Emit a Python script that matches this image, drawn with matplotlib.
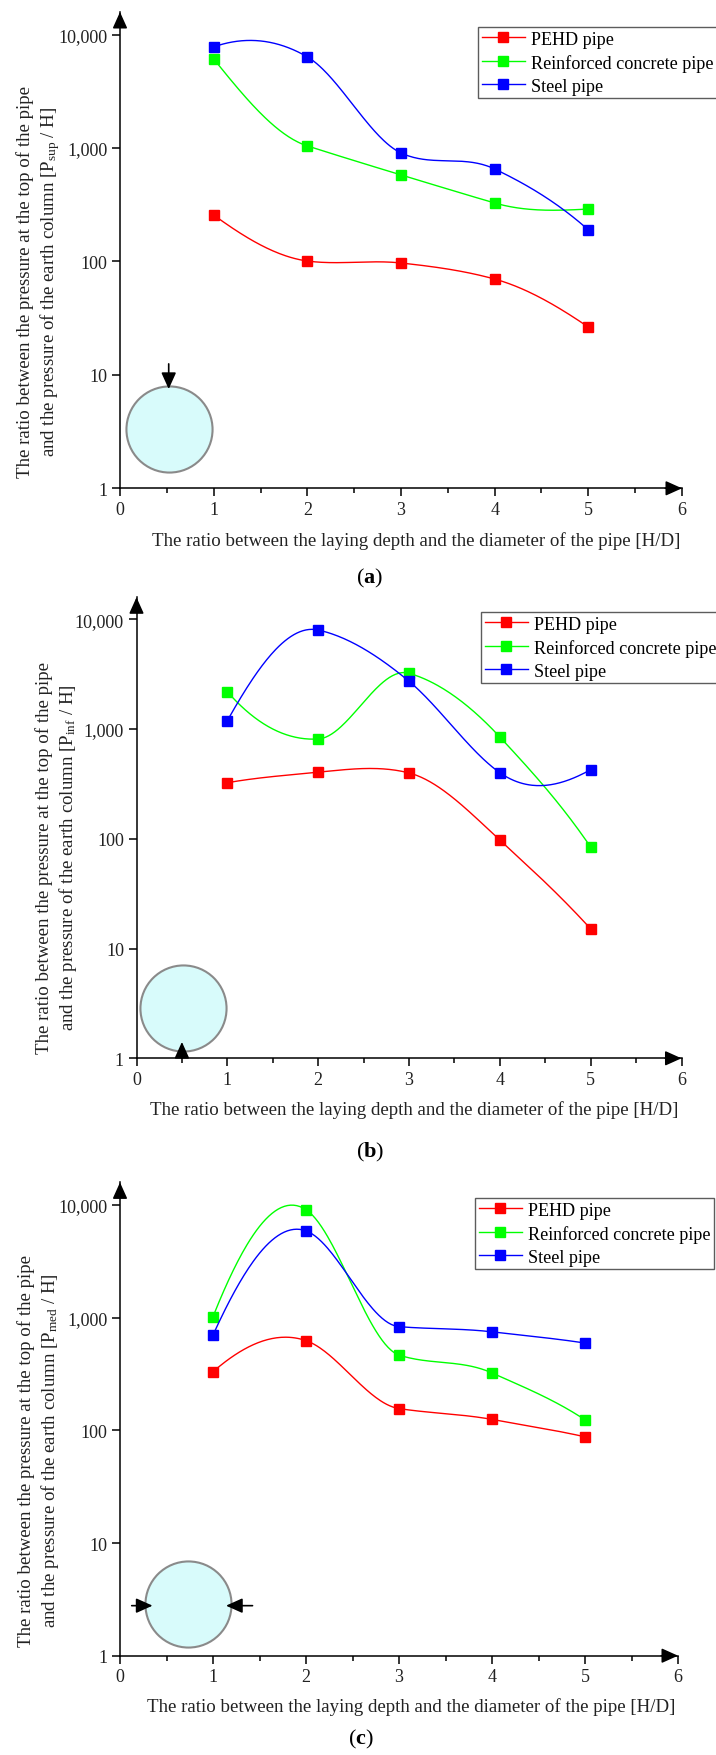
import numpy as np
import matplotlib
matplotlib.use("Agg")
from matplotlib import pyplot as plt
from matplotlib.ticker import FixedLocator, NullLocator, MultipleLocator

plt.rcParams["font.family"] = ["Liberation Serif", "DejaVu Serif"]
plt.rcParams["mathtext.fontset"] = "custom"
plt.rcParams["mathtext.rm"] = "Liberation Serif"
plt.rcParams["mathtext.it"] = "Liberation Serif:italic"
plt.rcParams["mathtext.bf"] = "Liberation Serif:bold"

# H/D ratio
hd = [1, 2, 3, 4, 5]
series_names = ["PEHD pipe", "Reinforced concrete pipe", "Steel pipe"]
series_colors = ["#ff0000", "#00ff00", "#0000ff"]

# (a) pressure at the top of the pipe
sup_pehd = [257, 101, 97, 70, 26.4]
sup_concrete = [6110, 1045, 580, 328, 290]
sup_steel = [7800, 6370, 906, 654, 190]

# (b) pressure at the bottom of the pipe
inf_pehd = [324, 404, 398, 97.5, 15.1]
inf_concrete = [2188, 811, 3220, 846, 84]
inf_steel = [1191, 7980, 2723, 400, 426]

# (c) pressure at the side of the pipe
med_pehd = [331, 625, 156, 125, 87.6]
med_concrete = [1020, 9080, 466, 323, 124]
med_steel = [701, 5890, 832, 748, 595]

y_ticks = [1, 10, 100, 1000, 10000]
y_ticklabels = ["1", "10", "100", "1,000", "10,000"]
x_ticks = [0, 1, 2, 3, 4, 5, 6]

FIG_W, FIG_H = 716, 1756
TXT = 13.6


def akima_line(x, y, per_seg=60):
    # Akima-type spline through the points, done on log10(y)
    x = np.asarray(x, float)
    ly = np.log10(np.asarray(y, float))
    n = len(x)
    m = np.diff(ly) / np.diff(x)
    mm = np.empty(n + 3)
    mm[2:n + 1] = m
    mm[1] = 2 * mm[2] - mm[3]
    mm[0] = 2 * mm[1] - mm[2]
    mm[n + 1] = 2 * mm[n] - mm[n - 1]
    mm[n + 2] = 2 * mm[n + 1] - mm[n]
    tang = np.empty(n)
    for i in range(n):
        w1 = abs(mm[i + 3] - mm[i + 2])
        w2 = abs(mm[i + 1] - mm[i])
        if w1 + w2 == 0:
            tang[i] = 0.5 * (mm[i + 1] + mm[i + 2])
        else:
            tang[i] = (w1 * mm[i + 1] + w2 * mm[i + 2]) / (w1 + w2)
    xs, ys = [], []
    for i in range(n - 1):
        h = x[i + 1] - x[i]
        s = np.linspace(0, 1, per_seg, endpoint=(i == n - 2))
        h00 = 2 * s ** 3 - 3 * s ** 2 + 1
        h10 = s ** 3 - 2 * s ** 2 + s
        h01 = -2 * s ** 3 + 3 * s ** 2
        h11 = s ** 3 - s ** 2
        xs.append(x[i] + s * h)
        ys.append(h00 * ly[i] + h10 * h * tang[i] + h01 * ly[i + 1] + h11 * h * tang[i + 1])
    return np.concatenate(xs), 10 ** np.concatenate(ys)


def px_box(left, right, bottom, top):
    return [left / FIG_W, 1 - bottom / FIG_H, (right - left) / FIG_W, (bottom - top) / FIG_H]


def axis_arrow(ax, tip, tail):
    ax.annotate("", xy=tip, xytext=tail, xycoords="axes fraction",
                arrowprops=dict(arrowstyle="-|>,head_length=1.0,head_width=0.45",
                                mutation_scale=10, fc="k", ec="k", lw=1.1,
                                shrinkA=0, shrinkB=0), annotation_clip=False)


def draw_panel(fig, box, data, sub, ylabel_xy, xlabel_xy, tag_xy, tag, legend_xy):
    ax = fig.add_axes(box)
    for vals, name, col in zip(data, series_names, series_colors):
        xs, ys = akima_line(hd, vals)
        ax.plot(xs, ys, color=col, lw=1.0)
        ax.plot(hd, vals, ls="none", marker="s", ms=7.2, color=col, mec=col)
        ax.plot([], [], color=col, lw=1.0, marker="s", ms=7.2, label=name)

    ax.set_yscale("log")
    ax.set_xlim(0, 6)
    ax.set_ylim(1, 10 ** 4.2)
    ax.yaxis.set_major_locator(FixedLocator(y_ticks))
    ax.yaxis.set_minor_locator(NullLocator())
    ax.set_yticklabels(y_ticklabels)
    ax.set_xticks(x_ticks)
    ax.xaxis.set_minor_locator(MultipleLocator(0.5))
    ax.tick_params(which="major", direction="out", length=6, width=1.1, labelsize=13, pad=3,
                   labelcolor="#222222")
    ax.tick_params(which="minor", direction="out", length=3.5, width=1.1)
    for s in ["top", "right"]:
        ax.spines[s].set_visible(False)
    for s in ["left", "bottom"]:
        ax.spines[s].set_linewidth(1.1)

    axis_arrow(ax, (1, 0), (0.97, 0))
    axis_arrow(ax, (0, 1), (0, 0.97))

    fig.text(ylabel_xy[0] / FIG_W, 1 - ylabel_xy[1] / FIG_H,
             "The ratio between the pressure at the top of the pipe\n"
             "and the pressure of the earth column [$\\mathrm{P_{%s}}$ / H]" % sub,
             rotation=90, ha="center", va="center", ma="center",
             fontsize=TXT, linespacing=1.3, color="#222222")
    fig.text(xlabel_xy[0] / FIG_W, 1 - xlabel_xy[1] / FIG_H,
             "The ratio between the laying depth and the diameter of the pipe [H/D]",
             ha="right", va="center", fontsize=TXT, color="#222222")
    fig.text(tag_xy[0] / FIG_W, 1 - tag_xy[1] / FIG_H, "($\\mathbf{%s}$)" % tag,
             ha="center", va="center", fontsize=16)

    leg = ax.legend(loc="upper left", bbox_to_anchor=(legend_xy[0] / FIG_W, 1 - legend_xy[1] / FIG_H),
                    bbox_transform=fig.transFigure, numpoints=1, fontsize=13.1,
                    frameon=True, fancybox=False, borderpad=0.2, borderaxespad=0,
                    handlelength=2.4, handletextpad=0.3, labelspacing=0.33)
    leg.get_frame().set_edgecolor("#333333")
    leg.get_frame().set_linewidth(1.0)
    return ax


def pipe_icon(ax, center, arrows):
    ax.plot([center[0]], [center[1]], marker="o", ms=62, mfc="#d8fbfb", mec="#8a8a8a",
            mew=1.5, ls="none", clip_on=False, zorder=1)
    for tail, tip in arrows:
        ax.annotate("", xy=tip, xytext=tail,
                    arrowprops=dict(arrowstyle="-|>,head_length=1.0,head_width=0.45",
                                    mutation_scale=10, fc="k", ec="k", lw=1.2,
                                    shrinkA=0, shrinkB=0), annotation_clip=False)


fig = plt.figure(figsize=(FIG_W / 100, FIG_H / 100), dpi=100)

ax_a = draw_panel(fig, px_box(120, 682, 489.3, 13), [sup_pehd, sup_concrete, sup_steel],
                  "sup", (39, 282), (680, 541), (370, 578), "a", (478, 28))
pipe_icon(ax_a, (0.52, 3.33), [((0.52, 12.5), (0.52, 7.5))])

ax_b = draw_panel(fig, px_box(136.5, 681.5, 1059.3, 598.3), [inf_pehd, inf_concrete, inf_steel],
                  "inf", (57, 858), (678, 1110), (370, 1152), "b", (481, 613))
pipe_icon(ax_b, (0.51, 2.87), [((0.5, 1.0), (0.5, 1.41))])

ax_c = draw_panel(fig, px_box(120, 678, 1656.7, 1183.4), [med_pehd, med_concrete, med_steel],
                  "med", (39, 1451), (675, 1707), (361, 1739), "c", (475, 1199))
pipe_icon(ax_c, (0.73, 2.85), [((0.126, 2.78), (0.35, 2.78)), ((1.425, 2.78), (1.14, 2.78))])

fig.savefig("out.png", dpi=100)
